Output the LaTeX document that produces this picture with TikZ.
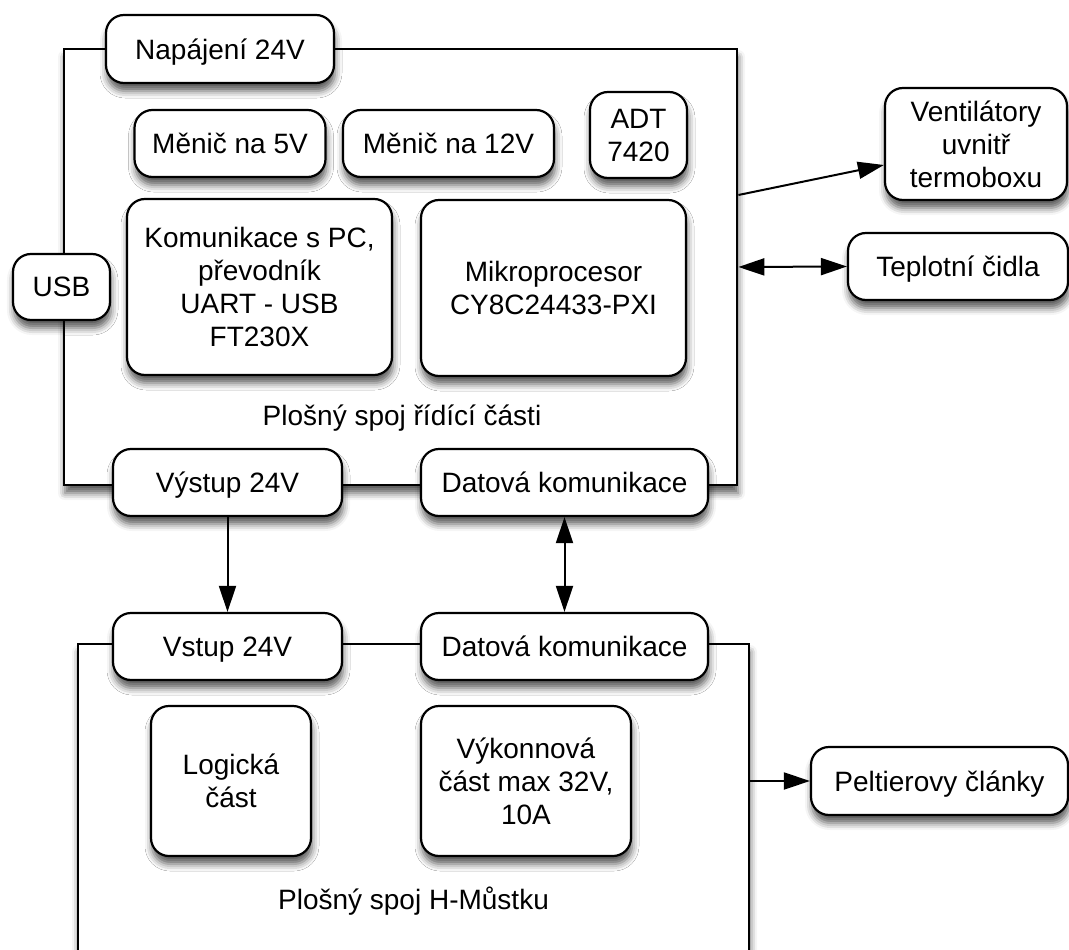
\documentclass[tikz,border=0pt]{standalone}
\usepackage{fontspec}
\setmainfont{Liberation Sans}
\usepackage{tikz}
\usetikzlibrary{arrows.meta,shadows.blur}

\begin{document}
\begin{tikzpicture}[x=1pt,y=-1pt,font=\fontsize{28}{33}\selectfont,
		stin/.style={blur shadow={shadow xshift=1pt,shadow yshift=-8pt,shadow blur radius=7pt,shadow opacity=65}},
		blok/.style={draw,line width=2.2pt,rounded corners=18pt,fill=white,align=center,inner sep=0pt,text depth=0pt,stin},
		deska/.style={draw,line width=2.8pt,fill=white,inner sep=0pt,stin},
		popis/.style={text depth=0pt},
		sipka/.style={line width=2pt,-{Triangle[length=26pt,width=17pt]}},
		obe/.style={line width=2pt,{Triangle[length=26pt,width=17pt]}-{Triangle[length=26pt,width=17pt]}}]
		\useasboundingbox (0,0) rectangle (1069,950);
		
		% desky
		\node[deska,minimum width=673,minimum height=436] (ridici) at (400.5,267) {};
		\node[deska,minimum width=671,minimum height=346] (hmustek) at (413.5,817) {};
		
		% ridici cast
		\node[blok,minimum width=228,minimum height=68] (napajeni) at (220,49) {Napájení 24V};
		\node[blok,minimum width=191,minimum height=67] (menic5) at (230,143.5) {Měnič na 5V};
		\node[blok,minimum width=211,minimum height=67] (menic12) at (448.5,143.5) {Měnič na 12V};
		\node[blok,minimum width=97,minimum height=86] (adt) at (638.5,135) {ADT\\7420};
		\node[blok,minimum width=265,minimum height=176] (komunikace) at (259.5,287) {Komunikace s PC,\\převodník\\UART - USB\\FT230X};
		\node[blok,minimum width=265,minimum height=176] (mikro) at (553.5,288) {Mikroprocesor\\CY8C24433-PXI};
		\node[blok,minimum width=97,minimum height=66] (usb) at (61.5,287) {USB};
		\node[popis] (ridicilabel) at (402,415) {Plošný spoj řídící části};
		\node[blok,minimum width=229,minimum height=67] (vystup) at (227.5,482.5) {Výstup 24V};
		\node[blok,minimum width=287,minimum height=67] (data1) at (564.5,482.5) {Datová komunikace};
		
		% okoli
		\node[blok,minimum width=182,minimum height=112] (ventilatory) at (976,144) {Ventilátory\\uvnitř\\termoboxu};
		\node[blok,minimum width=220,minimum height=67] (cidla) at (958,266.5) {Teplotní čidla};
		\node[blok,minimum width=257,minimum height=68] (peltier) at (939.5,781) {Peltierovy články};
		
		% H-mustek
		\node[blok,minimum width=229,minimum height=67] (vstup) at (227.5,646.5) {Vstup 24V};
		\node[blok,minimum width=287,minimum height=67] (data2) at (564.5,646.5) {Datová komunikace};
		\node[blok,minimum width=160,minimum height=150] (logika) at (231,781) {Logická\\část};
		\node[blok,minimum width=210,minimum height=150] (vykon) at (526,781) {Výkonnová\\část max 32V,\\10A};
		\node[popis] (hmusteklabel) at (413.5,898) {Plošný spoj H-Můstku};
		
		% spoje
		\draw[sipka] ([yshift=72pt]ridici.east) -- ([yshift=-21pt]ventilatory.west);
		\draw[obe] (ridici.east) -- (cidla.west);
		\draw[sipka] (vystup.south) -- (vstup.north);
		\draw[obe] (data1.south) -- (data2.north);
		\draw[sipka] (hmustek.east |- peltier.west) -- (peltier.west);
	\end{tikzpicture}
\end{document}
